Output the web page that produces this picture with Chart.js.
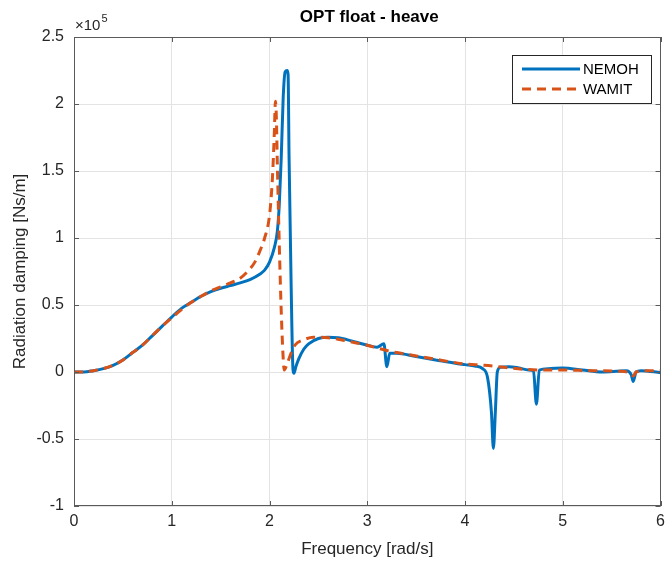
<!DOCTYPE html>
<html>
<head>
<meta charset="utf-8">
<script src="https://cdn.jsdelivr.net/npm/chart.js@4.4.1/dist/chart.umd.min.js"></script>
<style>
  html, body { margin: 0; padding: 0; background: #ffffff; }
  #wrap { width: 671px; height: 562px; }
</style>
</head>
<body>
<div id="wrap"><canvas id="c" width="671" height="562"></canvas></div>
<script>
// Values in units of 1e5 Ns/m
const nemohFreq = [0,0.1,0.2,0.3,0.4,0.5,0.6,0.7,0.8,0.9,1.0,1.1,1.2,1.3,1.4,1.5,1.6,1.7,1.8,1.9,1.95,2.0,2.05,2.08,2.1,2.12,2.14,2.16,2.18,2.19,2.2,2.22,2.24,2.25,2.27,2.3,2.35,2.4,2.5,2.6,2.7,2.8,2.9,3.0,3.1,3.17,3.2,3.23,3.3,3.5,3.7,3.9,4.0,4.1,4.18,4.23,4.27,4.29,4.31,4.33,4.36,4.45,4.55,4.65,4.7,4.73,4.76,4.85,5.0,5.2,5.4,5.55,5.65,5.7,5.72,5.75,5.8,6.0];
const nemohVal  = [0,0.0,0.01,0.025,0.05,0.09,0.145,0.2,0.27,0.34,0.41,0.475,0.52,0.565,0.6,0.625,0.645,0.665,0.69,0.73,0.76,0.82,0.93,1.05,1.25,1.6,2.05,2.24,2.25,2.22,1.6,0.7,0.02,-0.01,0.04,0.1,0.17,0.21,0.25,0.26,0.255,0.24,0.22,0.2,0.185,0.21,0.04,0.14,0.14,0.115,0.09,0.065,0.055,0.045,0.025,-0.04,-0.3,-0.57,-0.3,0.0,0.035,0.04,0.03,0.015,0.01,-0.24,0.015,0.025,0.03,0.015,0.0,0.005,0.01,-0.02,-0.07,0.0,0.01,-0.005];
const wamitFreq = [0,0.1,0.2,0.3,0.4,0.5,0.6,0.7,0.8,0.9,1.0,1.1,1.2,1.3,1.4,1.5,1.6,1.7,1.8,1.85,1.9,1.95,2.0,2.03,2.05,2.06,2.07,2.08,2.1,2.12,2.14,2.15,2.18,2.22,2.26,2.35,2.45,2.6,2.7,2.8,2.9,3.0,3.1,3.2,3.3,3.5,3.7,3.9,4.0,4.2,4.4,4.6,4.8,5.0,5.3,5.6,5.7,5.72,5.75,5.85,6.0];
const wamitVal  = [0,0.0,0.01,0.025,0.05,0.09,0.145,0.2,0.27,0.34,0.405,0.465,0.52,0.565,0.605,0.635,0.665,0.7,0.77,0.82,0.9,1.0,1.17,1.45,1.8,2.02,1.9,1.55,0.95,0.45,0.1,0.015,0.06,0.14,0.2,0.24,0.26,0.255,0.245,0.23,0.215,0.2,0.18,0.16,0.145,0.12,0.095,0.07,0.06,0.05,0.035,0.02,0.015,0.015,0.01,0.005,-0.015,-0.03,0.0,0.01,0.01];
const seriesNames = ['NEMOH','WAMIT'];
const xTicks = [0,1,2,3,4,5,6];
const yTicks = [-1,-0.5,0,0.5,1,1.5,2,2.5];
const titleText = 'OPT float - heave';
const xLabel = 'Frequency [rad/s]';
const yLabel = 'Radiation damping [Ns/m]';

const BLUE = '#0072BD', ORANGE = '#D95319';
const AXC = '#262626';
const FONT = '"Liberation Sans", Arial, Helvetica, sans-serif';

function pts(xs, ys) { return xs.map((x, i) => ({x: x, y: ys[i]})); }

const decor = {
  id: 'decor',
  afterDraw(chart) {
    const ctx = chart.ctx, a = chart.chartArea;
    const xs = chart.scales.x, ys = chart.scales.y;
    ctx.save();
    // box
    ctx.strokeStyle = '#5a5a5a';
    ctx.lineWidth = 1;
    ctx.strokeRect(Math.round(a.left) + 0.5, Math.round(a.top) + 0.5, Math.round(a.right - a.left) - 1, Math.round(a.bottom - a.top) - 1);
    // inner ticks
    ctx.beginPath();
    const tl = 5;
    xTicks.forEach(v => {
      const px = Math.round(xs.getPixelForValue(v)) + 0.5;
      ctx.moveTo(px, a.bottom); ctx.lineTo(px, a.bottom - tl);
      ctx.moveTo(px, a.top); ctx.lineTo(px, a.top + tl);
    });
    yTicks.forEach(v => {
      const py = Math.round(ys.getPixelForValue(v)) + 0.5;
      ctx.moveTo(a.left, py); ctx.lineTo(a.left + tl, py);
      ctx.moveTo(a.right, py); ctx.lineTo(a.right - tl, py);
    });
    ctx.stroke();
    // title
    ctx.fillStyle = '#000';
    ctx.font = 'bold 17px ' + FONT;
    ctx.textAlign = 'center';
    ctx.textBaseline = 'middle';
    ctx.fillText(titleText, (a.left + a.right) / 2 + 2, 17);
    // exponent
    ctx.fillStyle = AXC;
    ctx.textAlign = 'left';
    ctx.font = '15px ' + FONT;
    ctx.fillText('\u00d710', a.left + 1, 26);
    const w = ctx.measureText('\u00d710').width;
    ctx.font = '11px ' + FONT;
    ctx.fillText('5', a.left + 1 + w + 1, 19);
    // axis labels
    ctx.font = '17px ' + FONT;
    ctx.textAlign = 'center';
    ctx.fillText(xLabel, (a.left + a.right) / 2, 549);
    ctx.save();
    ctx.translate(20, (a.top + a.bottom) / 2);
    ctx.rotate(-Math.PI / 2);
    ctx.fillText(yLabel, 0, 0);
    ctx.restore();
    // legend
    const lx = 512, ly = 55, lw = 139, lh = 48;
    ctx.fillStyle = '#fff';
    ctx.fillRect(lx, ly, lw, lh);
    ctx.strokeStyle = '#262626';
    ctx.lineWidth = 1;
    ctx.strokeRect(lx + 0.5, ly + 0.5, lw, lh);
    const ds = chart.data.datasets;
    [0, 1].forEach(i => {
      const yy = ly + 14 + i * 20;
      ctx.beginPath();
      ctx.strokeStyle = ds[i].borderColor;
      ctx.lineWidth = 3;
      ctx.setLineDash(ds[i].borderDash || []);
      ctx.moveTo(lx + 10, yy); ctx.lineTo(lx + 68, yy);
      ctx.stroke();
      ctx.setLineDash([]);
      ctx.fillStyle = '#000';
      ctx.font = '15px ' + FONT;
      ctx.textAlign = 'left';
      ctx.textBaseline = 'middle';
      ctx.fillText(ds[i].label, lx + 71, yy + 1);
    });
    ctx.restore();
  }
};

new Chart(document.getElementById('c'), {
  type: 'line',
  data: {
    datasets: [
      { label: seriesNames[0], data: pts(nemohFreq, nemohVal), borderColor: BLUE, backgroundColor: BLUE,
        borderWidth: 3, pointRadius: 0, cubicInterpolationMode: 'monotone', fill: false, order: 2 },
      { label: seriesNames[1], data: pts(wamitFreq, wamitVal), borderColor: ORANGE, backgroundColor: ORANGE,
        borderWidth: 3, borderDash: [9, 6], pointRadius: 0, cubicInterpolationMode: 'monotone', fill: false, order: 1 }
    ]
  },
  options: {
    responsive: false,
    animation: false,
    devicePixelRatio: 1,
    layout: { padding: { left: 0, right: 2, top: 37, bottom: 0 } },
    plugins: { legend: { display: false }, title: { display: false }, tooltip: { enabled: false } },
    scales: {
      x: {
        type: 'linear', min: 0, max: 6,
        afterBuildTicks(s) { s.ticks = xTicks.map(v => ({value: v})); },
        afterFit(s) { s.height = 56; },
        grid: { color: '#e3e3e3', lineWidth: 1, drawTicks: false },
        border: { display: false },
        ticks: { color: AXC, font: { family: FONT, size: 16 }, padding: 6, maxRotation: 0,
                 callback: v => String(v) }
      },
      y: {
        type: 'linear', min: -1, max: 2.5,
        afterBuildTicks(s) { s.ticks = yTicks.map(v => ({value: v})); },
        afterFit(s) { s.width = 74; },
        grid: { color: '#e3e3e3', lineWidth: 1, drawTicks: false },
        border: { display: false },
        ticks: { color: AXC, font: { family: FONT, size: 16 }, padding: 10,
                 callback: v => String(v) }
      }
    }
  },
  plugins: [decor]
});
</script>
</body>
</html>
